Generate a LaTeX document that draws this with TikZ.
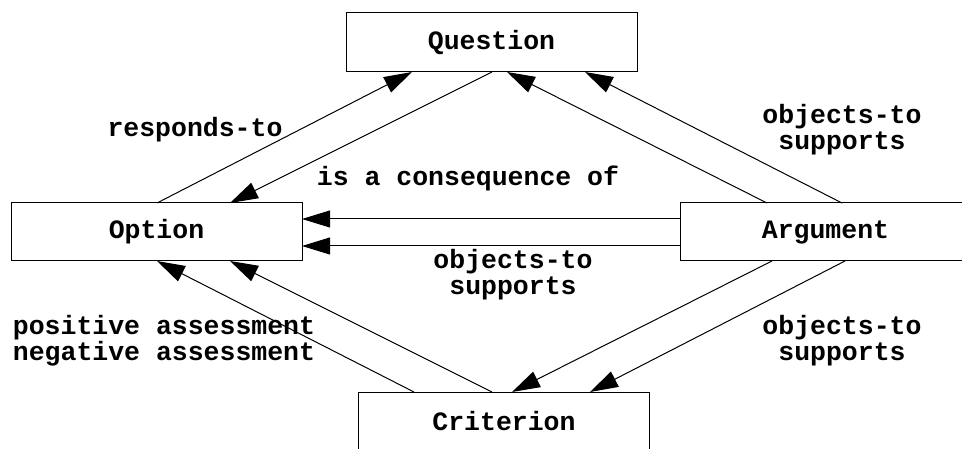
\documentclass[tikz,border=0pt]{standalone}
\usepackage{fontspec}
\newfontfamily\courfont{Liberation Mono}
\usetikzlibrary{arrows.meta}
\tikzset{
  box/.style={draw, line width=1pt, fill=white, minimum width=291pt, minimum height=58pt, inner sep=0pt, outer sep=0pt, font=\courfont\bfseries\fontsize{26.5}{26}\selectfont},
  lbl/.style={inner sep=0pt, align=center, font=\courfont\bfseries\fontsize{26.5}{26}\selectfont},
  conn/.style={line width=1pt, -{Triangle[length=28pt,width=17pt]}}
}
\begin{document}
\begin{tikzpicture}[x=1pt,y=-1pt]
\useasboundingbox (0,0) rectangle (962,449);
\clip (0,0) rectangle (962,449);
\fill[white] (0,0) rectangle (962,449);
\node[box, minimum height=59pt] (Q) at (491.5,42.5) {Question};
\node[box] (O) at (156.5,232) {Option};
\node[box] (A) at (825.5,232) {Argument};
\node[box] (C) at (504,421) {Criterion};
% Option <-> Question
\draw[conn] ([xshift=0.5pt]O.north) -- ([xshift=-79.5pt]Q.south);
\draw[conn] ([xshift=0.5pt]Q.south) -- ([xshift=73.5pt]O.north);
% Argument -> Question
\draw[conn] ([xshift=-58.5pt]A.north) -- ([xshift=15.5pt]Q.south);
\draw[conn] ([xshift=16.5pt]A.north) -- ([xshift=93.5pt]Q.south);
% Argument -> Option
\draw[conn] ([yshift=13pt]A.west) -- ([yshift=13pt]O.east);
\draw[conn] ([yshift=-14pt]A.west) -- ([yshift=-14pt]O.east);
% Criterion -> Option
\draw[conn] ([xshift=-90pt]C.north) -- ([xshift=0.5pt]O.south);
\draw[conn] ([xshift=-12pt]C.north) -- ([xshift=73.5pt]O.south);
% Argument -> Criterion
\draw[conn] ([xshift=-53.5pt]A.south) -- ([xshift=8pt]C.north);
\draw[conn] ([xshift=19.5pt]A.south) -- ([xshift=86pt]C.north);
% labels
\node[lbl] (l1) at (195,130) {responds-to};
\node[lbl] (l2) at (468,178) {is a consequence of};
\node[lbl] (l3) at (513,275) {objects-to\\supports};
\node[lbl] (l4) at (842,130) {objects-to\\supports};
\node[lbl] (l5) at (164,341) {positive assessment\\negative assessment};
\node[lbl] (l6) at (842,341) {objects-to\\supports};
\end{tikzpicture}
\end{document}
